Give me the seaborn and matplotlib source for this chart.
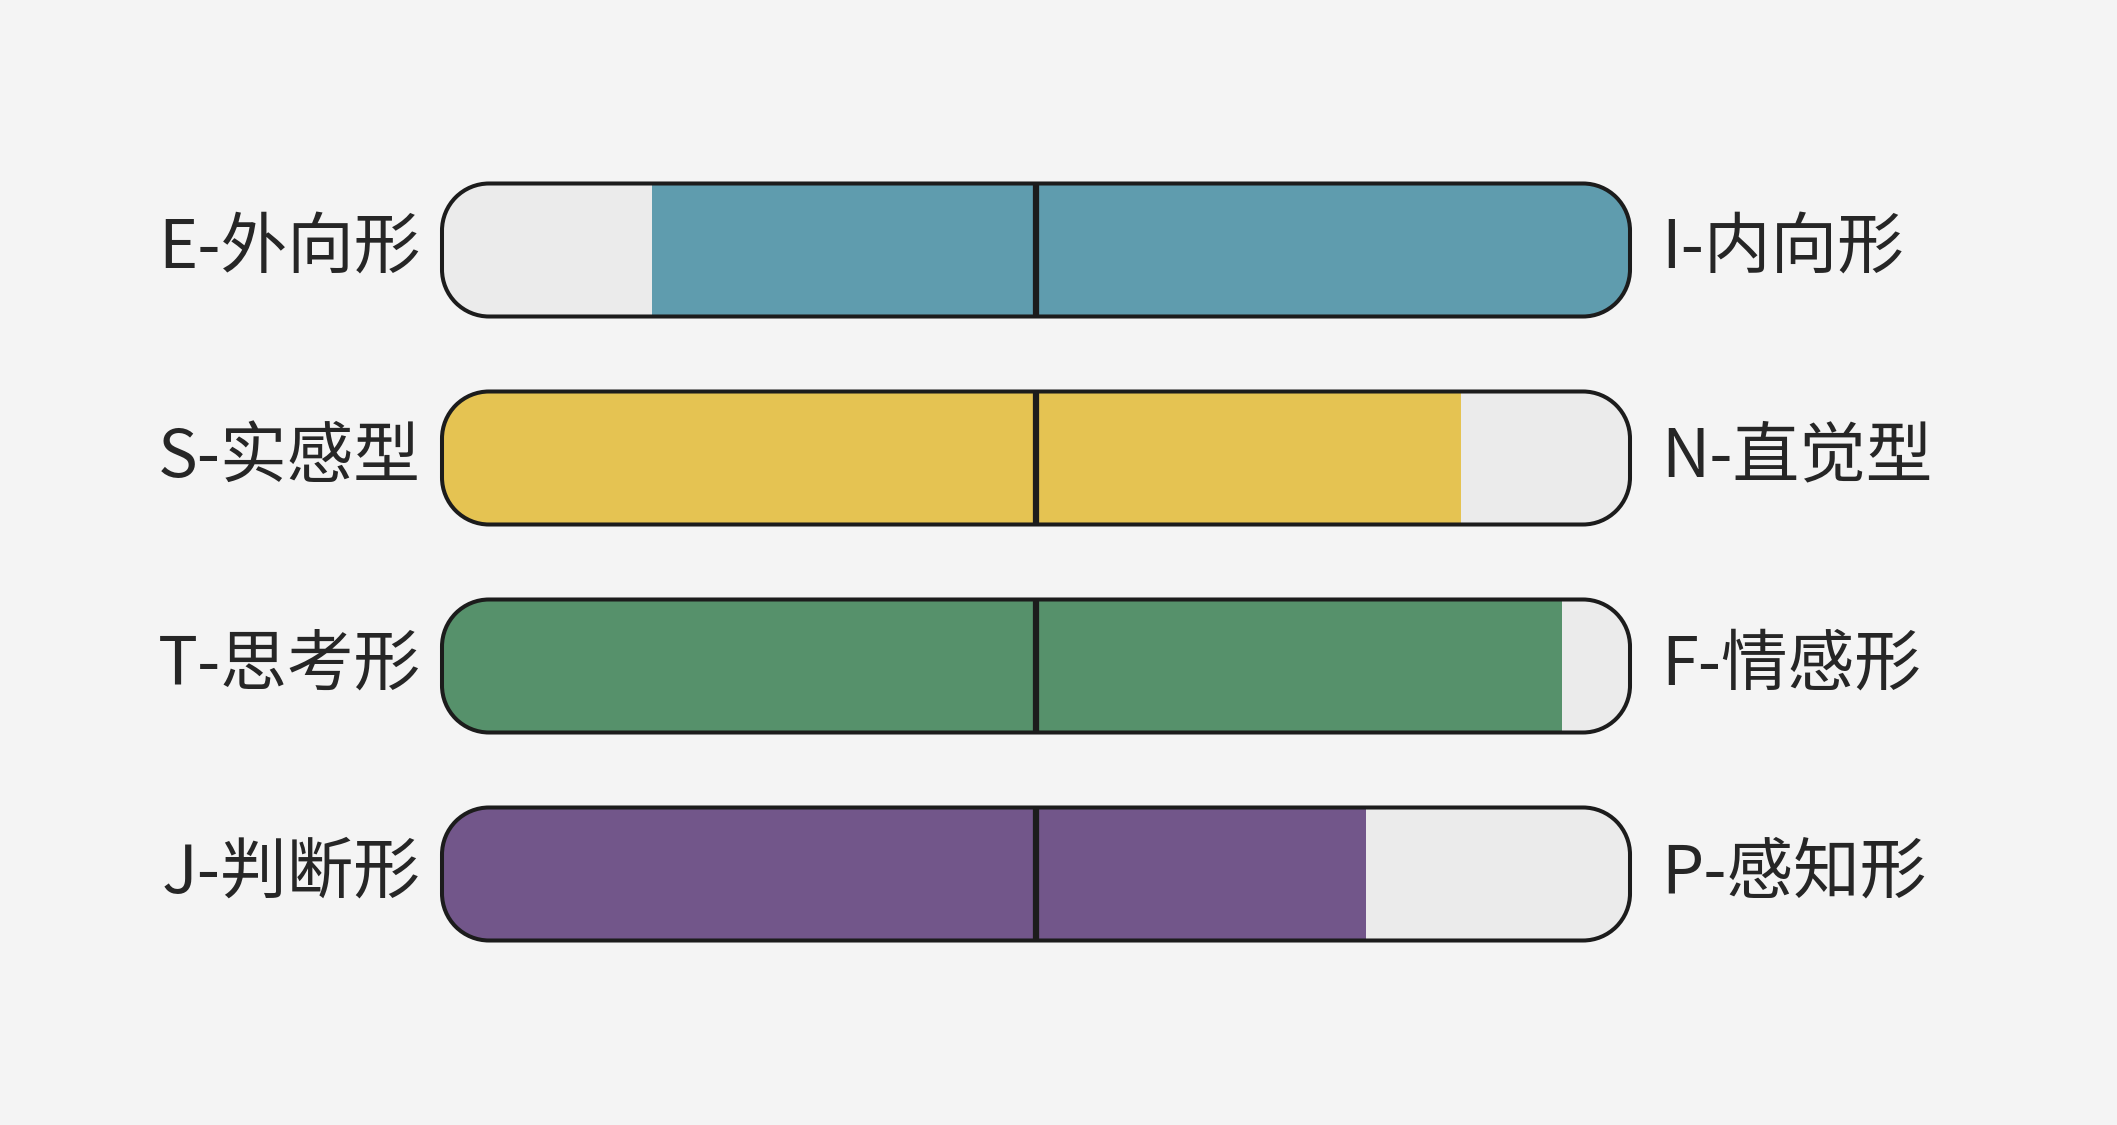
import matplotlib
matplotlib.use("Agg")
import matplotlib.pyplot as plt
import seaborn as sns
import pandas as pd
import numpy as np
from matplotlib.patches import PathPatch
from matplotlib.path import Path
from matplotlib.transforms import IdentityTransform

left_labels = ['E-外向形', 'S-实感型', 'T-思考形', 'J-判断形']
right_labels = ['I-内向形', 'N-直觉型', 'F-情感形', 'P-感知形']
left_pct = [17.7, 85.8, 94.3, 77.8]
bar_colors = ['#5f9cae', '#e5c352', '#56916b', '#72568a']
dominant = ['right', 'left', 'left', 'left']

EMPTY = '#ebebeb'
BG = '#f4f4f4'
INK = '#1c1c1c'

sns.set_theme(style='white')
plt.rcParams['font.family'] = ['Noto Sans CJK SC', 'DejaVu Sans']

W, H, DPI = 2117, 1125, 100
fig = plt.figure(figsize=(W / DPI, H / DPI), dpi=DPI, facecolor=BG)
# axes: x 0..100 spans bar; 4 rows, 208 px per row
ax = fig.add_axes([442 / W, 1 - 978 / H, 1188 / W, 832 / H])
ax.set_facecolor(BG)

rows = list(range(len(left_labels)))
full_colors = [bar_colors[i] if dominant[i] == 'right' else EMPTY for i in rows]
left_colors = [EMPTY if dominant[i] == 'right' else bar_colors[i] for i in rows]

df_full = pd.DataFrame({'row': [str(r) for r in rows], 'val': [100.0] * len(rows)})
df_left = pd.DataFrame({'row': [str(r) for r in rows], 'val': left_pct})

bw = 133 / 208
sns.barplot(data=df_full, x='val', y='row', hue='row', palette=full_colors,
            orient='h', width=bw, legend=False, ax=ax, linewidth=0, saturation=1)
sns.barplot(data=df_left, x='val', y='row', hue='row', palette=left_colors,
            orient='h', width=bw, legend=False, ax=ax, linewidth=0, saturation=1)

ax.set_xlim(0, 100)
ax.set_ylim(3.5, -0.5)
ax.axis('off')


def rounded_rect_path(x0, y0, x1, y1, r):
    verts, codes = [], []
    corners = [((x1 - r, y0 + r), 270, 360),
               ((x1 - r, y1 - r), 0, 90),
               ((x0 + r, y1 - r), 90, 180),
               ((x0 + r, y0 + r), 180, 270)]
    for k, (c, t1, t2) in enumerate(corners):
        arc = Path.arc(t1, t2)
        v = arc.vertices * r + np.array(c)
        cd = list(arc.codes)
        if k > 0:
            cd[0] = Path.LINETO
        verts.extend(v.tolist())
        codes.extend(cd)
    verts.append(verts[0])
    codes.append(Path.CLOSEPOLY)
    return Path(verts, codes)


fig.canvas.draw()
radius = 47
clips = []
for i in rows:
    (x0, y0) = ax.transData.transform((0, i + bw / 2))
    (x1, y1) = ax.transData.transform((100, i - bw / 2))
    clip = PathPatch(rounded_rect_path(x0, y0, x1, y1, radius),
                     transform=IdentityTransform(), facecolor='none',
                     edgecolor='none')
    fig.add_artist(clip)
    clips.append(clip)

for p in ax.patches:
    cy = p.get_y() + p.get_height() / 2
    idx = int(round(cy))
    p.set_clip_path(clips[idx])

for i in rows:
    (x0, y0) = ax.transData.transform((0, i + bw / 2))
    (x1, y1) = ax.transData.transform((100, i - bw / 2))
    border = PathPatch(rounded_rect_path(x0, y0, x1, y1, radius),
                       transform=IdentityTransform(), facecolor='none',
                       edgecolor=INK, linewidth=2.9, zorder=5)
    fig.add_artist(border)
    ax.plot([50, 50], [i - bw / 2, i + bw / 2], color=INK, lw=4.5, zorder=6,
            solid_capstyle='butt')
    ax.text(-1.8, i, left_labels[i], ha='right', va='center', fontsize=48,
            color='#262626', clip_on=False)
    ax.text(102.6, i, right_labels[i], ha='left', va='center', fontsize=48,
            color='#262626', clip_on=False)

fig.savefig('out.png', dpi=DPI, facecolor=BG)
